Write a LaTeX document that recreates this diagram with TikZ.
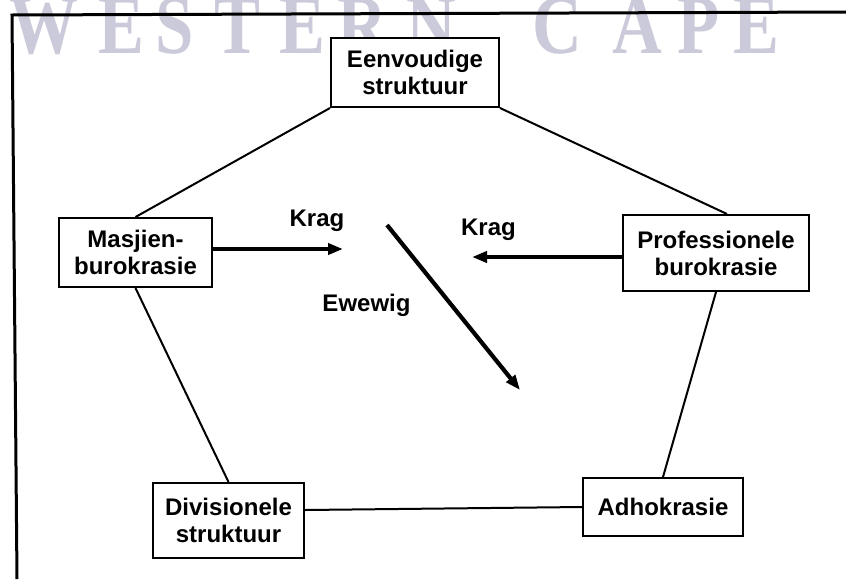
\documentclass[tikz,border=0pt]{standalone}
\usepackage{fontspec}
\setmainfont{Liberation Sans}
\newfontfamily\wmfont{Liberation Serif}
\usetikzlibrary{arrows.meta}
\definecolor{wmcol}{RGB}{202,202,218}
\newcommand\wmletter[1]{\scalebox{0.82}[1]{#1}}
\begin{document}
\begin{tikzpicture}[x=0.5pt,y=-0.5pt,
  box/.style n args={2}{draw, fill=white, line width=1pt, minimum width=#1, minimum height=#2,
    align=center, inner sep=0pt, font=\fontsize{12}{13.5}\selectfont\bfseries},
  conn/.style={line width=1pt},
  force/.style={line width=2.1pt, -{Triangle[length=7.5pt,width=5.5pt]}},
  lbl/.style={font=\fontsize{12}{13.5}\selectfont\bfseries, anchor=base, inner sep=0pt},
  wmk/.style={font=\wmfont\bfseries\fontsize{42}{42}\selectfont, text=wmcol, anchor=base, inner sep=0pt}]
\useasboundingbox (0,0) rectangle (846,579);
\fill[white] (0,0) rectangle (846,579);
% watermark
\begin{scope}
\clip (0,0) rectangle (846,579);
\node[wmk] (w1) at (44,53) {\wmletter{W}};
\node[wmk] (w2) at (121,53) {\wmletter{E}};
\node[wmk] (w3) at (175,53) {\wmletter{S}};
\node[wmk] (w4) at (237,53) {\wmletter{T}};
\node[wmk] (w5) at (302,53) {\wmletter{E}};
\node[wmk] (w6) at (362,53) {\wmletter{R}};
\node[wmk] (w7) at (431,53) {\wmletter{N}};
\node[wmk] (w8) at (557,53) {\wmletter{C}};
\node[wmk] (w9) at (637,53) {\wmletter{A}};
\node[wmk] (w10) at (699,53) {\wmletter{P}};
\node[wmk] (w11) at (756,53) {\wmletter{E}};
\end{scope}
% frame
\coordinate (f0) at (17,579);
\coordinate (f1) at (12,15);
\coordinate (f2) at (846,12);
\draw[line width=1.5pt] (f0) -- (f1) -- (f2);
% boxes
\node[box={84pt}{34.5pt}] (eenv) at (415,72.5) {Eenvoudige\\struktuur};
\node[box={76.5pt}{34.5pt}] (masj) at (135.5,252.5) {Masjien-\\burokrasie};
\node[box={93pt}{38pt}] (prof) at (716,253) {Professionele\\burokrasie};
\node[box={75.5pt}{37.5pt}] (div) at (228.5,520.5) {Divisionele\\struktuur};
\node[box={80pt}{29pt}] (adho) at (663,507) {Adhokrasie};
% pentagon connectors
\draw[conn] (eenv.south west) -- (masj.north);
\draw[conn] (eenv.south east) -- ([xshift=5.5pt]prof.north);
\draw[conn] (masj.south) -- (div.north);
\draw[conn] (prof.south) -- (adho.north);
\draw[conn] ([yshift=5.25pt]div.east) -- (adho.west);
% forces
\coordinate (k1) at (343,249);
\coordinate (k2) at (472,257);
\coordinate (d1) at (387,225);
\coordinate (d2) at (520,390);
\draw[force] ([yshift=1.75pt]masj.east) -- (k1);
\draw[force] ([yshift=-2pt]prof.west) -- (k2);
\draw[force] (d1) -- (d2);
% labels
\node[lbl] (kl1) at (317,226) {Krag};
\node[lbl] (kl2) at (488.5,235) {Krag};
\node[lbl] (ew) at (366.5,311) {Ewewig};
\end{tikzpicture}
\end{document}
